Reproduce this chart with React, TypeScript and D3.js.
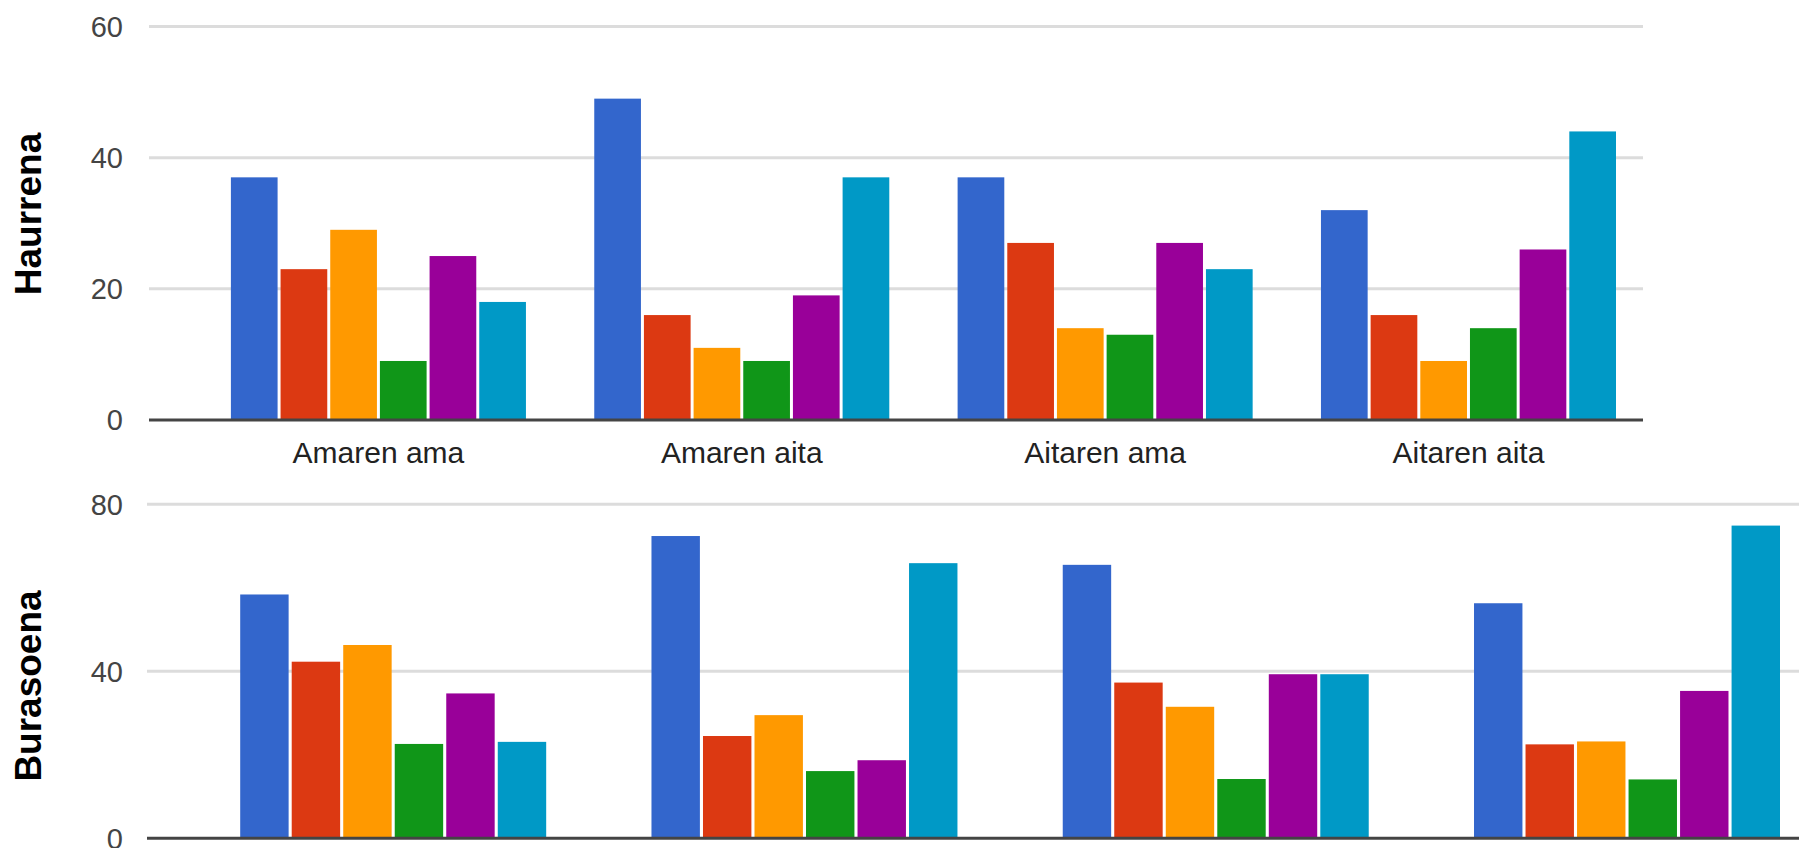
import React from "react";
import * as d3 from "d3";

// Categories shown along the x axis
const categories = ["Amaren ama", "Amaren aita", "Aitaren ama", "Aitaren aita"];

// Six series, one colour each (Google-style palette)
const seriesColors = ["#3366cc", "#dc3912", "#ff9900", "#109618", "#990099", "#0099c6"];

// Upper panel: "Haurrena" – one row per category, one value per series
const haurrenaValues = [
  [37, 23, 29, 9, 25, 18],
  [49, 16, 11, 9, 19, 37],
  [37, 27, 14, 13, 27, 23],
  [32, 16, 9, 14, 26, 44],
];
const haurrenaTicks = [0, 20, 40, 60];

// Lower panel: "Burasoena"
const burasoenaValues = [
  [58.4, 42.3, 46.3, 22.6, 34.7, 23.1],
  [72.4, 24.5, 29.5, 16.1, 18.7, 65.9],
  [65.5, 37.3, 31.5, 14.2, 39.3, 39.3],
  [56.3, 22.5, 23.2, 14.1, 35.3, 74.9],
];
const burasoenaTicks = [0, 40, 80];

const W = 1799;
const H = 848;
const tickFont = "'Liberation Sans', Arial, sans-serif";

type PanelProps = {
  title: string;
  values: number[][];
  ticks: number[];
  yMax: number;
  yRange: [number, number];
  bandRange: [number, number];
  bandPadding: number;
  gridX: [number, number];
  titleY: number;
  showCategories: boolean;
};

function Panel(p: PanelProps) {
  const y = d3.scaleLinear().domain([0, p.yMax]).range(p.yRange);
  const x = d3
    .scaleBand<string>()
    .domain(categories)
    .range(p.bandRange)
    .paddingInner(p.bandPadding)
    .paddingOuter(0);
  const sub = d3
    .scaleBand<number>()
    .domain(d3.range(seriesColors.length))
    .range([0, x.bandwidth()])
    .paddingInner(0.06)
    .paddingOuter(0);

  return (
    <g>
      {/* gridlines */}
      {p.ticks
        .filter((t) => t !== 0)
        .map((t) => (
          <line
            key={"g" + t}
            x1={p.gridX[0]}
            x2={p.gridX[1]}
            y1={y(t)}
            y2={y(t)}
            stroke="#dcdcdc"
            strokeWidth={3}
          />
        ))}
      {/* tick labels */}
      {p.ticks.map((t) => (
        <text
          key={"t" + t}
          x={123}
          y={y(t)}
          dy="0.36em"
          textAnchor="end"
          fontFamily={tickFont}
          fontSize={29}
          fill="#444"
        >
          {t}
        </text>
      ))}
      {/* bars */}
      {categories.map((c, ci) => (
        <g key={c} transform={`translate(${x(c)},0)`}>
          {p.values[ci].map((v, si) => (
            <rect
              key={si}
              x={sub(si)}
              y={y(v)}
              width={sub.bandwidth()}
              height={y(0) - y(v)}
              fill={seriesColors[si]}
            />
          ))}
        </g>
      ))}
      {/* baseline */}
      <line
        x1={p.gridX[0]}
        x2={p.gridX[1]}
        y1={y(0)}
        y2={y(0)}
        stroke="#444"
        strokeWidth={3}
      />
      {/* category labels */}
      {p.showCategories &&
        categories.map((c) => (
          <text
            key={"c" + c}
            x={(x(c) ?? 0) + x.bandwidth() / 2}
            y={463}
            textAnchor="middle"
            fontFamily={tickFont}
            fontSize={30}
            fill="#222"
          >
            {c}
          </text>
        ))}
      {/* panel title */}
      <text
        transform={`translate(41,${p.titleY}) rotate(-90)`}
        textAnchor="middle"
        fontFamily={tickFont}
        fontWeight="bold"
        fontSize={37}
        fill="#000"
      >
        {p.title}
      </text>
    </g>
  );
}

export default function App() {
  return (
    <svg
      width={W}
      height={H}
      style={{ position: "absolute", left: 0, top: 0, background: "#fff" }}
    >
      <rect width={W} height={H} fill="#fff" />
      <Panel
        title="Haurrena"
        values={haurrenaValues}
        ticks={haurrenaTicks}
        yMax={60}
        yRange={[420, 26.5]}
        bandRange={[230.9, 1616]}
        bandPadding={0.188}
        gridX={[149, 1643]}
        titleY={214}
        showCategories={true}
      />
      <Panel
        title="Burasoena"
        values={burasoenaValues}
        ticks={burasoenaTicks}
        yMax={80}
        yRange={[838.3, 504.3]}
        bandRange={[240.2, 1780]}
        bandPadding={0.256}
        gridX={[147, 1799]}
        titleY={686}
        showCategories={false}
      />
    </svg>
  );
}
